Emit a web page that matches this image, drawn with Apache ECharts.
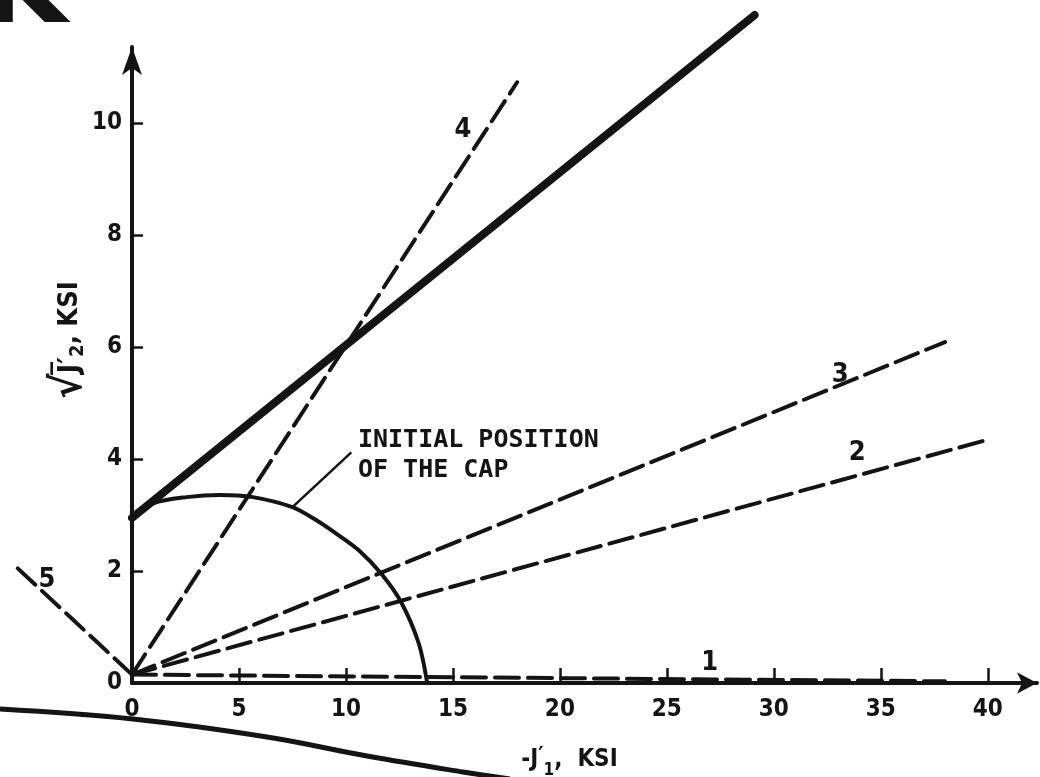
<!DOCTYPE html>
<html>
<head>
<meta charset="utf-8">
<script src="https://cdn.jsdelivr.net/npm/echarts@6/dist/echarts.min.js"></script>
<style>html,body{margin:0;padding:0;background:#fff}#c{width:1040px;height:777px}</style>
</head>
<body>
<div id="c"></div>
<script>
// ---- data ----
const xTickValues = [0, 5, 10, 15, 20, 25, 30, 35, 40];
const yTickValues = [0, 2, 4, 6, 8, 10];
const failureEnvelope = [[0, 2.95], [29.1, 11.93]];
const path1 = [[0, 0.15], [38, 0.03]];
const path2 = [[0, 0.15], [39.95, 4.34]];
const path3 = [[0, 0.15], [38.0, 6.09]];
const path4 = [[0, 0.15], [18.0, 10.73]];
const path5 = [[0, 0.15], [-5.6, 2.14]];
const capX = [0, 1.0, 2.55, 4.1, 5.65, 7.5, 8.6, 9.5, 10.6, 11.7, 12.6, 13.4, 13.8];
const capY = [2.95, 3.21, 3.32, 3.36, 3.32, 3.14, 2.91, 2.68, 2.37, 1.93, 1.43, 0.71, 0];
const leader = [[7.5, 3.14], [10.25, 4.12]];
const pathLabelText = ['4', '3', '2', '1', '5'];
const pathLabelX = [15.47, 33.1, 33.9, 27.0, -3.97];
const pathLabelY = [9.87, 5.5, 4.1, 0.36, 1.84];
const capNote = 'INITIAL POSITION\nOF THE CAP';
const capNoteAt = [10.56, 4.07];

const INK = '#141414';
const FONT = '"DejaVu Sans Condensed", "DejaVu Sans", sans-serif';
const MONO = '"DejaVu Sans Mono", monospace';

const capData = capX.map((x, i) => [x, capY[i]]);
const labelData = pathLabelText.map((t, i) => ({ value: [pathLabelX[i], pathLabelY[i]], name: t }));

function dashed(data) {
  return {
    type: 'line', data: data, showSymbol: false, clip: false, silent: true,
    lineStyle: { color: INK, width: 4, type: [24, 9], cap: 'round' }
  };
}

// segment drawn through the library's coordinate mapping (works for points left of the x-axis minimum)
function dashedSegment(pts) {
  return {
    type: 'custom', clip: false, silent: true,
    data: [[pts[0][0], pts[0][1], pts[1][0], pts[1][1]]],
    encode: { x: [0, 2], y: [1, 3] },
    renderItem: function (params, api) {
      const a = api.coord([api.value(0), api.value(1)]);
      const b = api.coord([api.value(2), api.value(3)]);
      return {
        type: 'line',
        shape: { x1: a[0], y1: a[1], x2: b[0], y2: b[1] },
        style: { stroke: INK, lineWidth: 4, lineDash: [24, 9], lineCap: 'round', fill: null }
      };
    }
  };
}

const chart = echarts.init(document.getElementById('c'), null, { renderer: 'canvas' });
chart.setOption({
  animation: false,
  backgroundColor: '#ffffff',
  grid: { left: 132, right: 3, top: 47, bottom: 94, containLabel: false, outerBoundsMode: 'none' },
  xAxis: {
    type: 'value', min: 0, max: 42.3, interval: 5,
    splitLine: { show: false },
    axisLine: { onZero: false, lineStyle: { color: INK, width: 4 }, symbol: ['none', 'arrow'], symbolSize: [16, 20] },
    axisTick: { inside: true, length: 15, lineStyle: { color: INK, width: 2.5 }, customValues: xTickValues.filter(v => v > 0) },
    axisLabel: { customValues: xTickValues, margin: 15, color: INK, fontFamily: FONT, fontWeight: 'bold', fontSize: 24 },
    name: '{t|-J}{p|′}{s|1}{t|,  KSI}', nameLocation: 'middle', nameGap: 62,
    nameTextStyle: {
      color: INK, fontFamily: FONT, fontWeight: 'bold', fontSize: 24, padding: [0, 30, 0, 0],
      rich: {
        t: { fontSize: 24, fontWeight: 'bold', fontFamily: FONT, color: INK, lineHeight: 30 },
        p: { fontSize: 22, fontWeight: 'bold', fontFamily: FONT, color: INK, lineHeight: 30, verticalAlign: 'top' },
        s: { fontSize: 17, fontWeight: 'bold', fontFamily: FONT, color: INK, lineHeight: 30, verticalAlign: 'bottom', padding: [0, 0, -4, 0] }
      }
    }
  },
  yAxis: {
    type: 'value', min: 0, max: 11.36, interval: 2,
    splitLine: { show: false },
    axisLine: { onZero: false, lineStyle: { color: INK, width: 4 }, symbol: ['none', 'arrow'], symbolSize: [15, 28] },
    axisTick: { inside: true, length: 11, lineStyle: { color: INK, width: 2.5 }, customValues: yTickValues.filter(v => v > 0) },
    axisLabel: { customValues: yTickValues, margin: 10, color: INK, fontFamily: FONT, fontWeight: 'bold', fontSize: 24 },
    name: '{r|√}{j|J̅′}{s|2}{t|, KSI}', nameLocation: 'middle', nameGap: 40, nameRotate: 90, nameMoveOverlap: false,
    nameTextStyle: {
      color: INK, fontFamily: FONT, fontWeight: 'bold', fontSize: 27, padding: [0, 0, 0, 50],
      rich: {
        r: { fontSize: 42, fontWeight: 'bold', fontFamily: FONT, color: INK, lineHeight: 44 },
        j: { fontSize: 29, fontWeight: 'bold', fontFamily: FONT, color: INK, lineHeight: 44 },
        s: { fontSize: 20, fontWeight: 'bold', fontFamily: FONT, color: INK, lineHeight: 44, verticalAlign: 'bottom', padding: [0, 0, 4, 0] },
        t: { fontSize: 27, fontWeight: 'bold', fontFamily: FONT, color: INK, lineHeight: 44 }
      }
    }
  },
  series: [
    {
      name: 'envelope', type: 'line', data: failureEnvelope, showSymbol: false, clip: false, silent: true,
      lineStyle: { color: INK, width: 8, cap: 'round' }
    },
    dashed(path1), dashed(path2), dashed(path3), dashed(path4), dashedSegment(path5),
    {
      name: 'cap', type: 'line', data: capData, smooth: 0.3, showSymbol: false, clip: false, silent: true,
      lineStyle: { color: INK, width: 4 }
    },
    {
      name: 'leader', type: 'line', data: leader, showSymbol: false, clip: false, silent: true,
      lineStyle: { color: INK, width: 2.5 }
    },
    {
      name: 'pathLabels', type: 'scatter', data: labelData, symbolSize: 0, clip: false, silent: true,
      itemStyle: { opacity: 1 },
      label: { show: true, position: 'inside', formatter: p => p.name, color: INK, fontFamily: FONT, fontWeight: 'bold', fontSize: 27 }
    },
    {
      name: 'note', type: 'scatter', data: [{ value: capNoteAt, name: capNote }], symbolSize: 0, clip: false, silent: true,
      itemStyle: { opacity: 1 },
      label: { show: true, position: 'right', distance: 0, align: 'left', formatter: p => p.name, color: INK, fontFamily: MONO, fontWeight: 'bold', fontSize: 25, lineHeight: 30 }
    }
  ],
  graphic: [
    { type: 'text', left: -18, top: -62, style: { text: 'K', fill: INK, font: 'bold 110px "DejaVu Sans", sans-serif' }, silent: true },
    { type: 'polyline', shape: { points: [[0, 709], [133, 719], [267, 737], [367, 756], [463, 772], [510, 779]], smooth: 0.4 }, style: { stroke: INK, lineWidth: 5, fill: null }, silent: true }
  ]
});
</script>
</body>
</html>
